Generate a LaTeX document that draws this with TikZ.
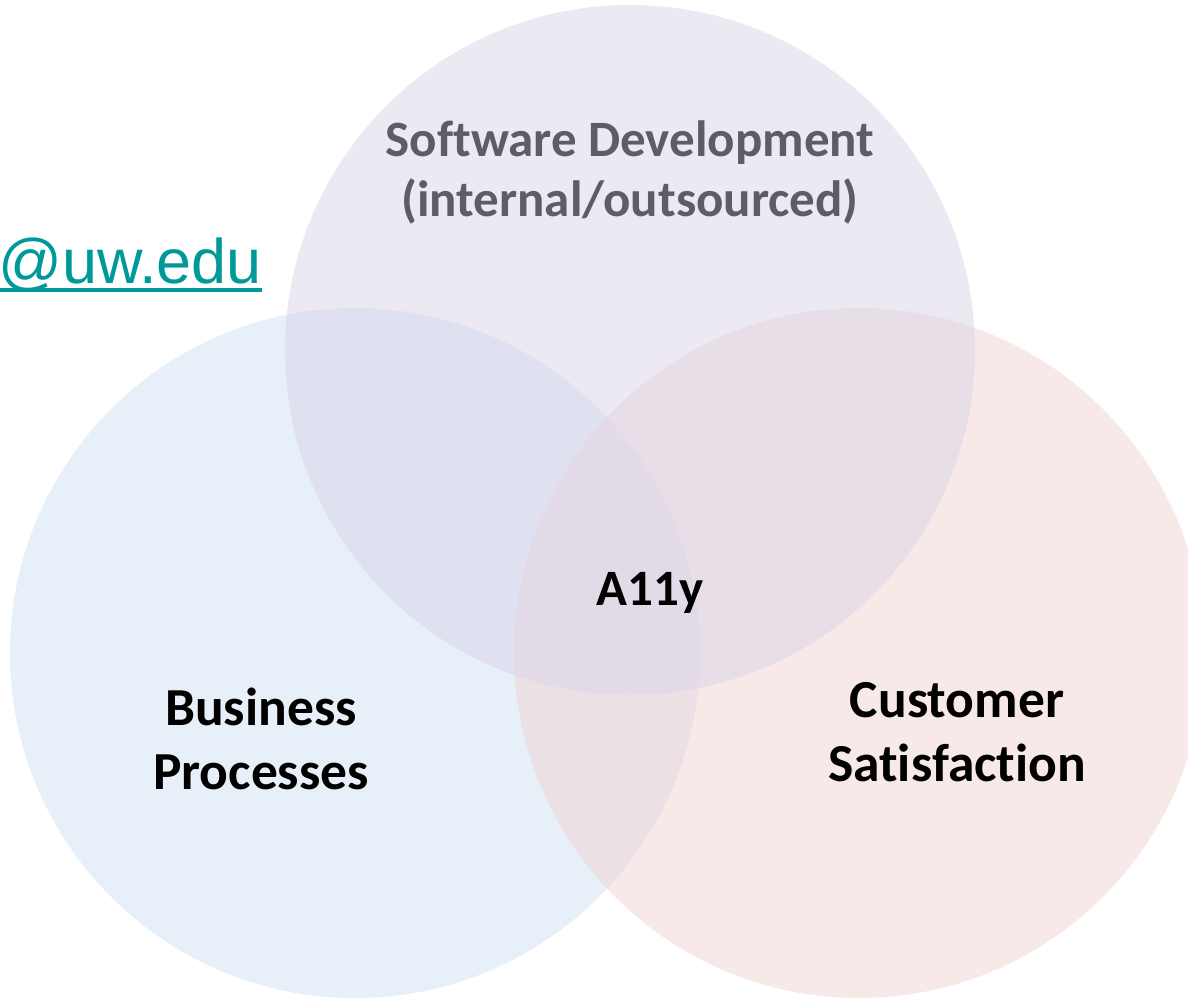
\documentclass[tikz,border=0pt]{standalone}
\usepackage{fontspec}
\setmainfont{Carlito}[Ligatures=NoCommon]
\newfontfamily\mailfont{Liberation Sans}
\usepackage{tikz}
\definecolor{devfill}{RGB}{217,212,232}
\definecolor{busfill}{RGB}{207,223,243}
\definecolor{custfill}{RGB}{241,211,211}
\definecolor{devtext}{RGB}{95,91,104}
\definecolor{mailteal}{RGB}{0,153,153}
\tikzset{venn/.style={shape=circle, draw=none, minimum size=690pt, inner sep=0pt, fill opacity=.5}}
\tikzset{biglabel/.style={align=center, inner sep=0pt, font=\bfseries\fontsize{53.5}{64}\selectfont}}

\begin{document}
\begin{tikzpicture}[x=1pt, y=-1pt]
                \useasboundingbox (0,0) rectangle (1188,997);

                \node[venn, fill=busfill] (B) at (355,653) {};
                \node[venn, fill=custfill] (C) at (859,653) {};
                \node[venn, fill=devfill] (D) at (630,350) {};

                \node[biglabel, text=devtext, font=\bfseries\fontsize{51}{60}\selectfont, anchor=north] (dev) at (630,121) {Software Development\\(internal/outsourced)};
                \node[biglabel, font=\bfseries\fontsize{51}{64}\selectfont, anchor=base] (ally) at (650,605) {A11y};
                \node[biglabel, anchor=north] (bus) at (261,688) {Business\\Processes};
                \node[biglabel, anchor=north] (cust) at (957,682) {Customer\\Satisfaction};

                \node[inner sep=0pt, anchor=base east, text=mailteal, font=\mailfont\fontsize{63}{70}\selectfont] (mail) at (262,283) {@uw.edu};
                \draw[mailteal, line width=4pt] (0,290) -- (mail.base east |- 0,290);

\end{tikzpicture}
\end{document}
